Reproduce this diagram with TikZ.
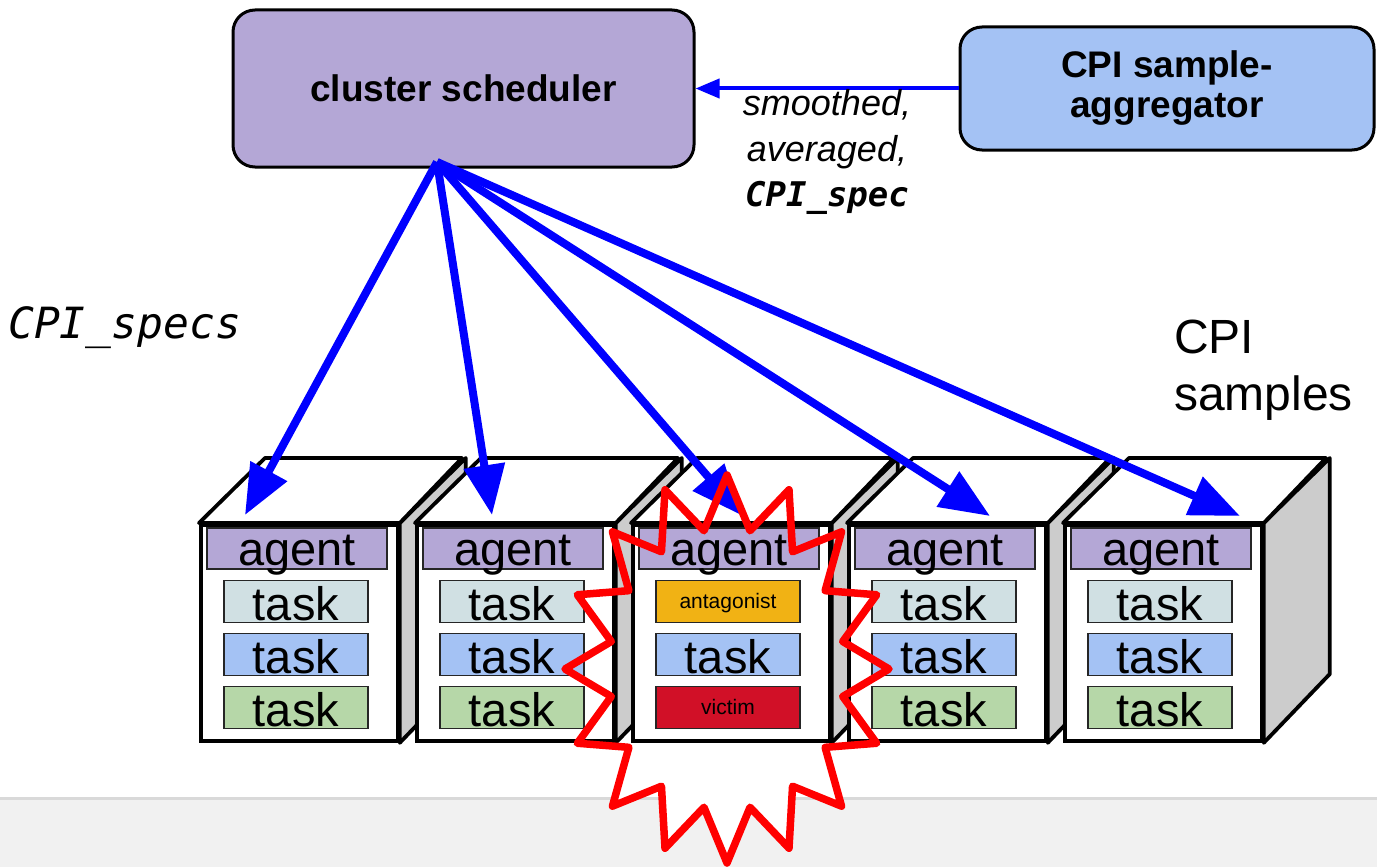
\documentclass[tikz,border=0pt]{standalone}
\usepackage{fontspec}
\setmainfont{Liberation Sans}
\newfontfamily\monofont{DejaVu Sans Mono}
\usetikzlibrary{arrows.meta}
\definecolor{agentc}{HTML}{B4A7D6}
\definecolor{taskA}{HTML}{D0E0E3}
\definecolor{taskB}{HTML}{A4C2F4}
\definecolor{taskC}{HTML}{B6D7A8}
\definecolor{antc}{RGB}{241,178,20}
\definecolor{vicc}{RGB}{209,16,39}
\definecolor{sidec}{HTML}{CCCCCC}
\definecolor{bandc}{HTML}{F1F1F1}
\definecolor{bandl}{HTML}{D9D9D9}
\definecolor{arrowc}{RGB}{0,0,255}
\newcommand\fs[1]{\fontsize{#1}{#1}\selectfont}
\newcommand\srvbox[2]{%
  \node[front, anchor=north west] (#1) at (#2,523) {};
  \draw[side, fill=sidec] (#1.north east) -- ++(66,-65) -- ++(0,216) -- (#1.south east) -- cycle;
  \draw[side, fill=white] (#1.north west) -- ++(66,-65) -- ++(197,0) -- (#1.north east) -- cycle;
  \node[agentbar] (#1ag) at ({#2+98},548.5) {};
  \node[lbl] (#1agt) at ({#2+98},565) {agent};
}
\newcommand\stdtasks[2]{%
  \node[taskbar, fill=taskA] (#1ta) at ({#2+97},601.5) {};
  \node[lbl] (#1tal) at ({#2+97},620) {task};
  \node[taskbar, fill=taskB] (#1tb) at ({#2+97},654.5) {};
  \node[lbl] (#1tbl) at ({#2+97},673) {task};
  \node[taskbar, fill=taskC] (#1tc) at ({#2+97},707.5) {};
  \node[lbl] (#1tcl) at ({#2+97},726) {task};
}
\begin{document}
\begin{tikzpicture}[x=1pt,y=-1pt,
  bar/.style={draw=black!85, line width=1.8pt, inner sep=0pt, minimum height=42pt},
  agentbar/.style={bar, fill=agentc, minimum width=180pt, minimum height=41pt},
  taskbar/.style={bar, minimum width=144pt},
  lbl/.style={anchor=base, inner sep=0pt, font=\fs{47}},
  smalllbl/.style={anchor=base, inner sep=0pt, font=\fs{21}},
  front/.style={draw, line width=3.8pt, fill=white, minimum width=197pt, minimum height=216pt, inner sep=0pt},
  side/.style={draw, line width=3.8pt, line join=round},
  bigbox/.style={draw, line width=3pt, rounded corners=22pt, inner sep=0pt, font=\bfseries\fs{37}, align=center},
  link/.style={draw=arrowc, line width=8pt, -{Triangle[length=50pt,width=40pt]}},
  feed/.style={draw=arrowc, line width=4pt, -{Triangle[length=24pt,width=19pt]}},
  note/.style={anchor=base, inner sep=0pt},
]
\useasboundingbox (0,0) rectangle (1377,867);
% bottom band
\fill[bandc] (0,798) rectangle (1377,867);
\draw[bandl, line width=3pt] (0,798.5) -- (1377,798.5);
% star fill
\fill[white] (727,475) \foreach \i in {0,...,15}{ -- ({727+118*sin(\i*22.5+11.25)},{669-141*cos(\i*22.5+11.25)}) -- ({727+162*sin(\i*22.5+22.5)},{669-194*cos(\i*22.5+22.5)}) } -- cycle;
% servers
\srvbox{s1}{199}\stdtasks{s1}{199}
\srvbox{s2}{415}\stdtasks{s2}{415}
\srvbox{s3}{631}
\node[taskbar, fill=antc] (s3ta) at (728,601.5) {};
\node[smalllbl] (s3tal) at (728,608) {antagonist};
\node[taskbar, fill=taskB] (s3tb) at (728,654.5) {};
\node[lbl] (s3tbl) at (728,673) {task};
\node[taskbar, fill=vicc] (s3tc) at (728,707.5) {};
\node[smalllbl] (s3tcl) at (728,714) {victim};
\srvbox{s4}{847}\stdtasks{s4}{847}
\srvbox{s5}{1063}\stdtasks{s5}{1063}
% top boxes
\node[bigbox, fill=agentc, minimum width=461pt, minimum height=157pt] (sched) at (463.5,88.5) {cluster scheduler};
\node[bigbox, fill=taskB, minimum width=414pt, minimum height=123pt, font=\bfseries\fontsize{37}{40}\selectfont] (agg) at (1167,88.5) {CPI sample-\\aggregator};
\draw[feed] (agg.west) -- (sched.east);
\node[note, font=\itshape\fs{36}] (lab1) at (827,116) {smoothed,};
\node[note, font=\itshape\fs{36}] (lab2) at (827,161) {averaged,};
\node[note, font=\monofont\bfseries\itshape\fs{34}] (lab3) at (827,206) {CPI\_spec};
\node[note, anchor=base west, font=\monofont\itshape\fs{43}] (specs) at (8,338) {CPI\_specs};
\node[note, anchor=base west, font=\fs{48}] (samp1) at (1174,353) {CPI};
\node[note, anchor=base west, font=\fs{48}] (samp2) at (1174,410) {samples};
% arrows
\coordinate (hub) at (437,162);
\coordinate (tip1) at (245,515);
\coordinate (tip2) at (492,515);
\coordinate (tip3) at (741,515);
\coordinate (tip4) at (990,516);
\coordinate (tip5) at (1240,516);
\foreach \k in {1,...,5}{\draw[link] (hub) -- (tip\k);}
% star outline
\draw[red, line width=7.5pt, line join=round] (727,475) \foreach \i in {0,...,15}{ -- ({727+118*sin(\i*22.5+11.25)},{669-141*cos(\i*22.5+11.25)}) -- ({727+162*sin(\i*22.5+22.5)},{669-194*cos(\i*22.5+22.5)}) } -- cycle;
\end{tikzpicture}
\end{document}
